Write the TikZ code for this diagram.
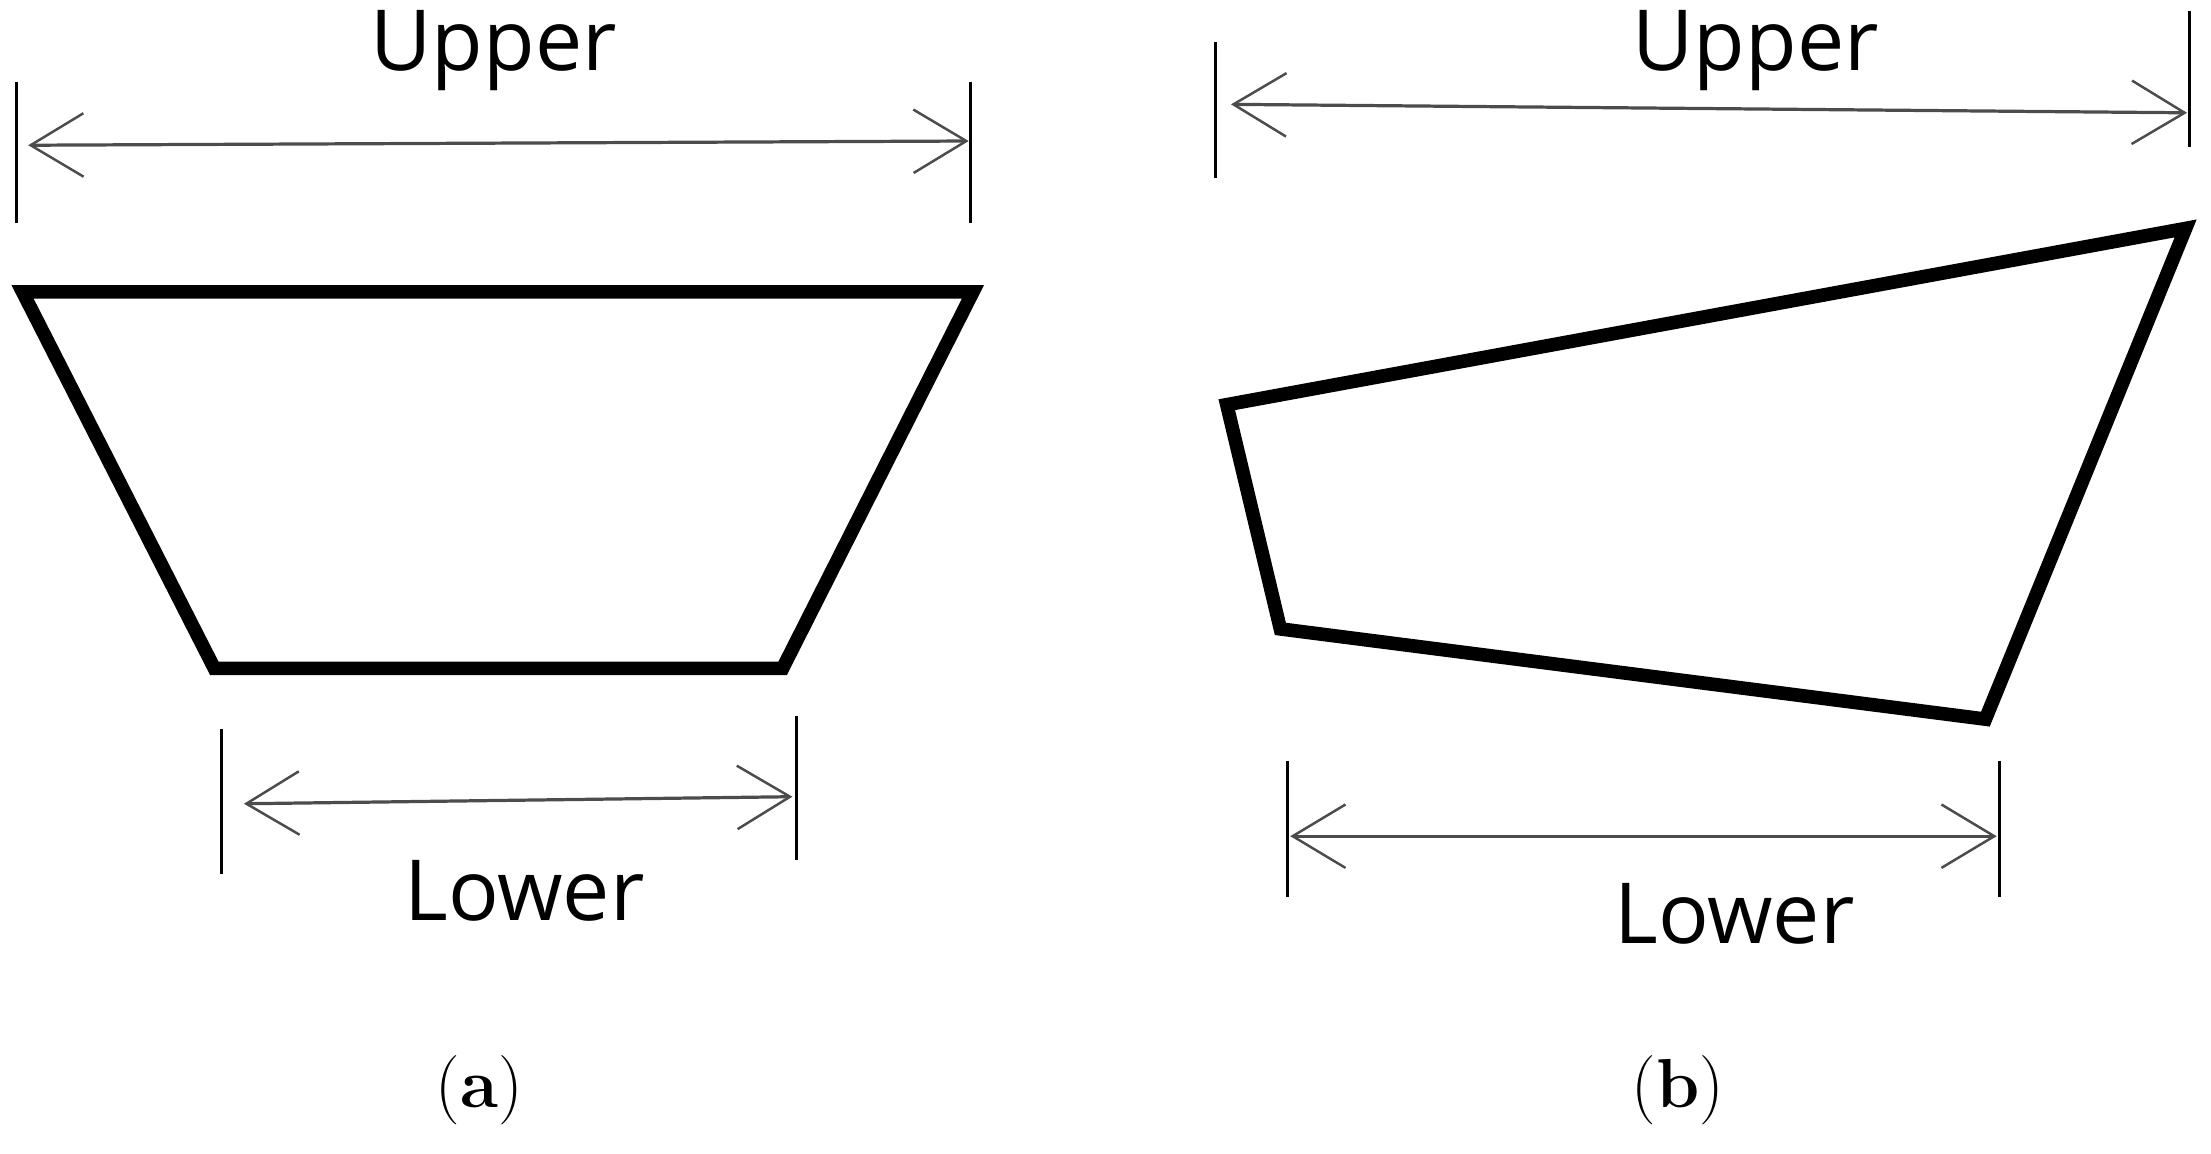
\documentclass[tikz,border=0pt]{standalone}
\usepackage{fontspec}
\newfontfamily\lbl{Open Sans}
\usetikzlibrary{arrows.meta}
\begin{document}
\begin{tikzpicture}[x=0.02cm,y=-0.02cm,
  tick/.style={line width=1.2pt},
  dim/.style={line width=1.3pt,draw=black!70,{Straight Barb[length=0.75cm,width=0.9cm,line width=1pt]}-{Straight Barb[length=0.75cm,width=0.9cm,line width=1pt]}},
  shp/.style={line width=5.5pt,line join=miter},
  txt/.style={font=\lbl\fontsize{34}{40}\selectfont},
  captxt/.style={font=\fontsize{28}{32}\selectfont}]
\useasboundingbox (0,0) rectangle (1568,818);
% (a)
\coordinate (a1) at (12,58); \coordinate (a2) at (12,158);
\coordinate (a3) at (688,58); \coordinate (a4) at (688,158);
\draw[tick] (a1)--(a2); \draw[tick] (a3)--(a4);
\coordinate (au1) at (20,103); \coordinate (au2) at (687,100);
\draw[dim] (au1)--(au2);
\node[txt] (upa) at (350,36) {Upper};
\draw[shp] (16,207)--(690,207)--(555,474)--(152,474)--cycle;
\coordinate (b1) at (157,517); \coordinate (b2) at (157,620);
\coordinate (b3) at (565,508); \coordinate (b4) at (565,610);
\draw[tick] (b1)--(b2); \draw[tick] (b3)--(b4);
\coordinate (al1) at (173,570); \coordinate (al2) at (562,565);
\draw[dim] (al1)--(al2);
\node[txt] (lowa) at (372,632) {Lower};
\node[captxt] (ca) at (340,773) {(\textbf{a})};
% (b)
\coordinate (c1) at (862,30); \coordinate (c2) at (862,126);
\coordinate (c3) at (1553,8); \coordinate (c4) at (1553,104);
\draw[tick] (c1)--(c2); \draw[tick] (c3)--(c4);
\coordinate (bu1) at (873,74); \coordinate (bu2) at (1551,80);
\draw[dim] (bu1)--(bu2);
\node[txt] (upb) at (1245,36) {Upper};
\draw[shp] (870,287)--(1550,162)--(1408,510)--(908,446)--cycle;
\coordinate (d1) at (913,540); \coordinate (d2) at (913,636);
\coordinate (d3) at (1418,540); \coordinate (d4) at (1418,636);
\draw[tick] (d1)--(d2); \draw[tick] (d3)--(d4);
\coordinate (bl1) at (915,593); \coordinate (bl2) at (1416,593);
\draw[dim] (bl1)--(bl2);
\node[txt] (lowb) at (1230,648) {Lower};
\node[captxt] (cb) at (1190,773) {(\textbf{b})};
\end{tikzpicture}
\end{document}
